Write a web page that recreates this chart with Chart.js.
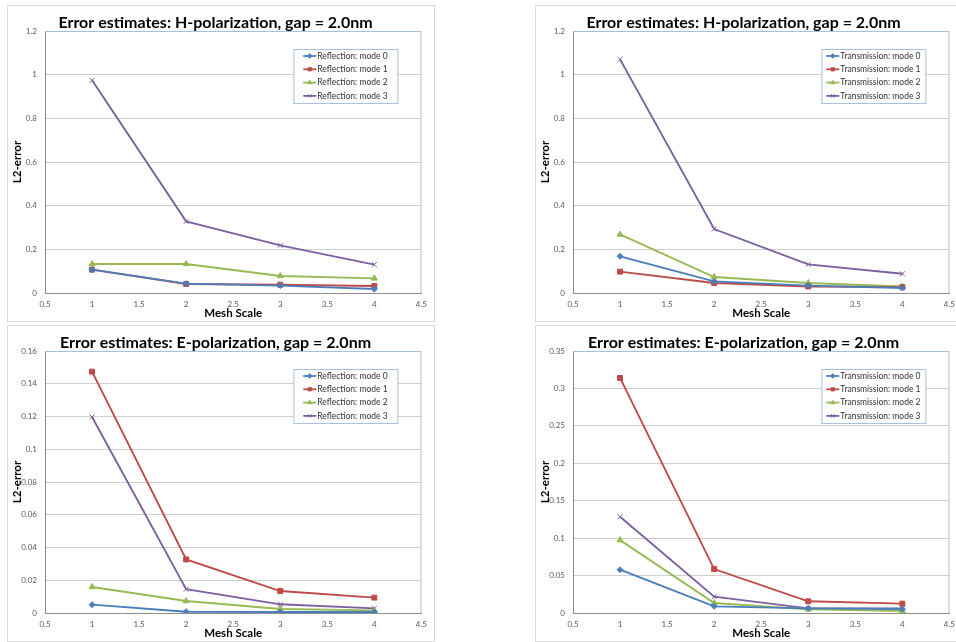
<!DOCTYPE html>
<html>
<head>
<meta charset="utf-8">
<script src="https://cdn.jsdelivr.net/npm/chart.js@4/dist/chart.umd.min.js"></script>
<style>
  body { margin: 0; background: #fff; overflow: hidden; width: 956px; height: 642px; position: relative; }
  .panel { position: absolute; width: 428px; height: 317px; border: 1px solid #d9d9d9; box-sizing: border-box; background: #fff; }
  .panel canvas { display: block; }
</style>
</head>
<body>
<div class="panel" style="left:7px; top:5px;"><canvas id="hRefl" width="426" height="315"></canvas></div>
<div class="panel" style="left:535px; top:5px;"><canvas id="hTrans" width="426" height="315"></canvas></div>
<div class="panel" style="left:7px; top:325px;"><canvas id="eRefl" width="426" height="315"></canvas></div>
<div class="panel" style="left:535px; top:325px;"><canvas id="eTrans" width="426" height="315"></canvas></div>
<script>
const meshScale = [1, 2, 3, 4];

const reflLabels = ['Reflection: mode 0', 'Reflection: mode 1', 'Reflection: mode 2', 'Reflection: mode 3'];
const transLabels = ['Transmission: mode 0', 'Transmission: mode 1', 'Transmission: mode 2', 'Transmission: mode 3'];

// H-polarization, reflection
const hReflMode0 = [0.107, 0.043, 0.034, 0.018];
const hReflMode1 = [0.107, 0.041, 0.038, 0.032];
const hReflMode2 = [0.133, 0.133, 0.078, 0.067];
const hReflMode3 = [0.974, 0.328, 0.218, 0.130];

// H-polarization, transmission
const hTransMode0 = [0.168, 0.053, 0.034, 0.023];
const hTransMode1 = [0.098, 0.046, 0.030, 0.027];
const hTransMode2 = [0.268, 0.073, 0.046, 0.030];
const hTransMode3 = [1.070, 0.293, 0.131, 0.088];

// E-polarization, reflection
const eReflMode0 = [0.0051, 0.0008, 0.0006, 0.0006];
const eReflMode1 = [0.1474, 0.0327, 0.0134, 0.0094];
const eReflMode2 = [0.0159, 0.0073, 0.0024, 0.0016];
const eReflMode3 = [0.1197, 0.0146, 0.0053, 0.0028];

// E-polarization, transmission
const eTransMode0 = [0.0578, 0.0089, 0.0062, 0.0053];
const eTransMode1 = [0.314, 0.0587, 0.0156, 0.0125];
const eTransMode2 = [0.0974, 0.0133, 0.0049, 0.0027];
const eTransMode3 = [0.1285, 0.0218, 0.0062, 0.0060];

const hTitle = 'Error estimates: H-polarization, gap = 2.0nm';
const eTitle = 'Error estimates: E-polarization, gap = 2.0nm';

const colors = ['#4a7ebb', '#be4b48', '#98b954', '#7d60a0'];
const pointStyles = ['rectRot', 'rect', 'triangle', 'crossRot'];
const pointRadii = [3, 3.5, 3.5, 3.5];

function drawMarker(ctx, i, x, y, r) {
  ctx.fillStyle = colors[i];
  ctx.strokeStyle = colors[i];
  ctx.lineWidth = 1;
  if (Chart.helpers && Chart.helpers.drawPoint) {
    Chart.helpers.drawPoint(ctx, { pointStyle: pointStyles[i], radius: r, rotation: 0, borderWidth: 1 }, x, y);
  } else {
    ctx.fillRect(x - r / 2, y - r / 2, r, r);
  }
}

// plot area outline (blue top/right) and the legend box inside the plot
const frameAndLegend = {
  id: 'frameAndLegend',
  beforeDatasetsDraw(chart) {
    const { ctx, chartArea: a } = chart;
    ctx.save();
    ctx.strokeStyle = '#a9c0de';
    ctx.lineWidth = 1;
    ctx.beginPath();
    ctx.moveTo(a.left, a.top + 0.5);
    ctx.lineTo(a.right - 0.5, a.top + 0.5);
    ctx.lineTo(a.right - 0.5, a.bottom);
    ctx.stroke();
    ctx.restore();
  },
  afterDraw(chart) {
    const { ctx, chartArea: a } = chart;
    const boxW = 104, boxH = 54;
    const x0 = a.right - 24 - boxW;
    const y0 = a.top + 18;
    ctx.save();
    ctx.fillStyle = '#fff';
    ctx.fillRect(x0, y0, boxW, boxH);
    ctx.strokeStyle = '#a9c0de';
    ctx.lineWidth = 1;
    ctx.strokeRect(x0 + 0.5, y0 + 0.5, boxW, boxH);

    ctx.font = '8.5px Lato';
    const labels = chart.data.datasets.map(d => d.label);
    const textW = Math.max(...labels.map(t => ctx.measureText(t).width));
    const lineLen = 13;
    const startX = x0 + (boxW - (lineLen + 1 + textW)) / 2;
    labels.forEach((t, i) => {
      const y = y0 + 7 + i * 13.3;
      ctx.strokeStyle = colors[i];
      ctx.lineWidth = 1.8;
      ctx.beginPath();
      ctx.moveTo(startX, y);
      ctx.lineTo(startX + lineLen, y);
      ctx.stroke();
      drawMarker(ctx, i, startX + lineLen / 2, y, 2.3);
      ctx.fillStyle = '#333';
      ctx.textAlign = 'left';
      ctx.textBaseline = 'middle';
      ctx.fillText(t, startX + lineLen + 1, y);
    });
    ctx.restore();
  }
};

function toPoints(values) {
  return values.map((v, i) => ({ x: meshScale[i], y: v }));
}

function makeChart(id, title, labels, series, yMax, yStep) {
  const datasets = series.map((values, i) => ({
    label: labels[i],
    data: toPoints(values),
    borderColor: colors[i],
    backgroundColor: colors[i],
    borderWidth: 1.9,
    pointStyle: pointStyles[i],
    pointRadius: pointRadii[i],
    pointBorderWidth: 1,
    tension: 0
  }));

  return new Chart(document.getElementById(id), {
    type: 'line',
    data: { datasets: datasets },
    plugins: [frameAndLegend],
    options: {
      responsive: false,
      animation: false,
      devicePixelRatio: 1,
      layout: { padding: { left: 0, right: 11, top: 0, bottom: 0 } },
      plugins: {
        legend: { display: false },
        tooltip: { enabled: false },
        title: {
          display: true,
          text: title,
          color: '#000',
          font: { family: 'Lato', size: 16, weight: 'bold', lineHeight: '17px' },
          padding: { top: 8, bottom: 0 }
        }
      },
      scales: {
        x: {
          type: 'linear',
          min: 0.5,
          max: 4.5,
          afterFit: s => { s.height = 28; },
          grid: { display: false, drawTicks: false },
          border: { display: true, color: '#8c8c8c', width: 1 },
          ticks: {
            stepSize: 0.5,
            padding: 7,
            color: '#595959',
            font: { family: 'Lato', size: 8 },
            maxRotation: 0,
            callback: v => String(Number(v.toFixed(2)))
          },
          title: {
            display: true,
            text: 'Mesh Scale',
            color: '#000',
            font: { family: 'Lato', size: 11.5, weight: 'bold' },
            padding: { top: 0, bottom: 1 }
          }
        },
        y: {
          min: 0,
          max: yMax,
          afterFit: s => { s.width = 37; },
          grid: { color: '#cfcfcf', drawTicks: false },
          border: { display: true, color: '#8c8c8c', width: 1 },
          ticks: {
            stepSize: yStep,
            padding: 8,
            color: '#595959',
            font: { family: 'Lato', size: 8 },
            callback: v => String(Number(v.toFixed(3)))
          },
          title: {
            display: true,
            text: 'L2-error',
            color: '#000',
            font: { family: 'Lato', size: 11.5, weight: 'bold' },
            padding: { top: 2, bottom: 0 }
          }
        }
      }
    }
  });
}

makeChart('hRefl', hTitle, reflLabels, [hReflMode0, hReflMode1, hReflMode2, hReflMode3], 1.2, 0.2);
makeChart('hTrans', hTitle, transLabels, [hTransMode0, hTransMode1, hTransMode2, hTransMode3], 1.2, 0.2);
makeChart('eRefl', eTitle, reflLabels, [eReflMode0, eReflMode1, eReflMode2, eReflMode3], 0.16, 0.02);
makeChart('eTrans', eTitle, transLabels, [eTransMode0, eTransMode1, eTransMode2, eTransMode3], 0.35, 0.05);
</script>
</body>
</html>
